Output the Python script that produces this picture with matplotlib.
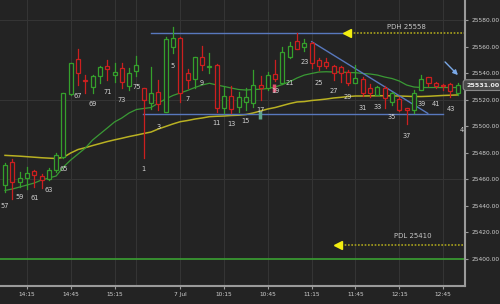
import matplotlib
matplotlib.use('Agg')
import matplotlib.pyplot as plt
from matplotlib.patches import Rectangle
import matplotlib.transforms as mtransforms

# 5 min candles, prev day bars 57..75 then 7 Jul bars 1..44
opens = [25456, 25473, 25458, 25461, 25466.4, 25462.4, 25460.2, 25466.6, 25477, 25524.3,
         25550.5, 25534.6, 25529.4, 25537.9, 25545.4, 25539, 25543.7, 25530.3, 25541.9,
         25528.8, 25517.3, 25525.8, 25510.9, 25560, 25566.3, 25539.9, 25535.4, 25552.5,
         25544.7, 25546.2, 25513.5, 25522.8, 25514.7, 25518.6, 25517.7, 25531.1, 25528.6,
         25539.4, 25532.6, 25552.2, 25564.5, 25560, 25562.6, 25550, 25548.5, 25545.1,
         25544.5, 25540.9, 25532.8, 25535.4, 25528.8, 25523.9, 25528.5, 25518.6, 25520.3,
         25513.5, 25512.6, 25527.7, 25536.9, 25532.8, 25531, 25532.2, 25524.7]
highs = [25472, 25475, 25465.4, 25469.2, 25466.9, 25463.9, 25468.1, 25479.8, 25525.1, 25547.7,
         25558, 25538.6, 25538.6, 25545.4, 25549.6, 25547.7, 25547.9, 25543.7, 25553,
         25529.1, 25544.9, 25534.9, 25567.3, 25575.1, 25567, 25542.9, 25552.2, 25560.5,
         25555, 25547, 25529.8, 25530.3, 25526, 25528.6, 25542.4, 25537.9, 25541.1,
         25550, 25560, 25563.5, 25570, 25565.8, 25563.5, 25551.5, 25551.1, 25546.2,
         25545.4, 25542.4, 25546.2, 25537.1, 25531.8, 25530.7, 25530.3, 25526, 25522.4,
         25514.1, 25527.3, 25538.6, 25537.5, 25533.7, 25532, 25532.6, 25532.6]
lows = [25450, 25445, 25454.1, 25452.6, 25454.1, 25453.4, 25459.4, 25465.4, 25476, 25523.5,
        25531.1, 25525.3, 25525.3, 25532.6, 25534.9, 25533.6, 25528.6, 25527.3, 25537.9,
        25476, 25513, 25512.2, 25510.7, 25555, 25518.5, 25528.6, 25529.1, 25542.4,
        25539.9, 25510.9, 25510, 25510.2, 25510.9, 25512.2, 25514.3, 25519.8, 25527.3,
        25534.1, 25531.8, 25551.5, 25557.9, 25556.8, 25544.3, 25542.4, 25543.9, 25534.9,
        25533.6, 25531.1, 25532.6, 25522.8, 25522.3, 25523.5, 25513.7, 25516, 25511.5,
        25501.7, 25509.7, 25527, 25530.3, 25528.5, 25527, 25522.4, 25523.9]
closes = [25471, 25458, 25461, 25464.7, 25463.2, 25459.4, 25467.3, 25478.3, 25524.8, 25547.5,
          25540.4, 25534.1, 25538.1, 25544.9, 25543.2, 25540.9, 25533.6, 25540.4, 25546.2,
          25519.8, 25525.3, 25516.8, 25565.6, 25566.3, 25524.8, 25534.9, 25552, 25546.2,
          25545.1, 25513.5, 25522.8, 25512.8, 25521.8, 25521.7, 25531.1, 25528.8, 25538.6,
          25535.4, 25556, 25560.2, 25558.3, 25562.6, 25547.5, 25545.1, 25545.4, 25540.2,
          25540.2, 25532.6, 25536.2, 25525.4, 25524.7, 25529.9, 25521.1, 25524.7, 25512.6,
          25512.6, 25524.7, 25536, 25532.6, 25530, 25530.5, 25526.2, 25531]

ma_fast = [25451.5, 25452.6, 25454.1, 25455.6, 25457.1, 25459.4, 25460.9, 25462.4, 25469.2, 25474.5,
           25479, 25483.5, 25489.6, 25494.1, 25498.6, 25503.2, 25506.2, 25510, 25512.6,
           25513.4, 25514.1, 25517.5, 25520.5, 25523.2, 25525.1, 25527, 25529.2, 25531.1,
           25532.4, 25531.1, 25530, 25528.8, 25527.7, 25527.3, 25527.7, 25527.9, 25528.5,
           25529.6, 25531.5, 25533.6, 25536.4, 25538.6, 25539.8, 25540.9, 25541.1, 25540.9,
           25540.9, 25540.5, 25540.4, 25539.8, 25539.4, 25538.6, 25537.1, 25536, 25534.1,
           25531.1, 25529.6, 25529.2, 25529.2, 25529.2, 25529.2, 25529.2, 25529.2]
ma_slow = [25478, 25477.7, 25477.4, 25477, 25476.6, 25476.2, 25475.9, 25475.6, 25476.5, 25479.8,
           25482.4, 25483.8, 25485.4, 25486.9, 25488.4, 25489.7, 25490.9, 25492.2, 25493.3,
           25494.5, 25495.6, 25497.9, 25499.8, 25501.7, 25503.4, 25504.3, 25505.4, 25506.2,
           25507.2, 25507.5, 25507.7, 25508.1, 25508.3, 25508.8, 25510, 25511.5, 25513,
           25514.1, 25515.6, 25517.1, 25518.3, 25518.6, 25519.4, 25519.9, 25520.5, 25521.3,
           25521.8, 25522.4, 25522.8, 25522.8, 25522.9, 25523, 25523, 25522.9, 25522.8,
           25522.6, 25522.4, 25522.4, 25522.6, 25522.9, 25523.2, 25523.4, 25523.6]

bar_labels = ['57', '59', '61', '63', '65', '67', '69', '71', '73', '75',
              '1', '3', '5', '7', '9', '11', '13', '15', '17', '19', '21', '23',
              '25', '27', '29', '31', '33', '35', '37', '39', '41', '43']
label_y = [25439.8, 25446.8, 25445.6, 25451.6, 25467.5, 25522.6, 25516.5, 25525.6, 25519.8, 25529.8,
           25467.5, 25499.6, 25545.7, 25520.5, 25532.8, 25502.2, 25501.4, 25503.9, 25512.2,
           25526.6, 25532.8, 25548.2, 25532.4, 25526.8, 25522.3, 25513.7, 25514.2, 25507.2,
           25492.8, 25517.0, 25516.5, 25512.7]

tick_pos = [3, 9, 15, 24, 30, 36, 42, 48, 54, 60]
tick_text = ['14:15', '14:45', '15:15', '7 Jul', '10:15', '10:45', '11:15', '11:45', '12:15', '12:45']

pdh_level, pdl_level = 25570, 25410
support_level = 25400
range_low = 25509
last_price = 25531

bg = '#232323'
up_col = '#35a02c'
dn_col = '#cc1f1f'
blue = '#5878bd'

fig = plt.figure(figsize=(5, 3.04), dpi=100, facecolor=bg)
ax = fig.add_axes([0, 18 / 304, 465 / 500, 286 / 304])
ax.set_facecolor(bg)

ax.set_xlim(-0.685, 63.0)
ax.set_ylim(25379.4, 25595.25)

# grid
for t in tick_pos + [18]:
    ax.axvline(t, color='#343434', lw=0.8, zorder=0)
for p in [25460, 25520, 25580]:
    ax.axhline(p, color='#343434', lw=0.8, zorder=0)

ax.axhline(support_level, color='#3aa032', lw=1.2, zorder=1)

# moving averages
xs = list(range(len(opens)))
ax.plot(xs, ma_slow, color='#b9b122', lw=1.1, zorder=2)
ax.plot(xs, ma_fast, color='#3a9a35', lw=0.9, zorder=2)

# candles (hollow)
w = 0.55
for i in xs:
    o, h, l, c = opens[i], highs[i], lows[i], closes[i]
    col = up_col if c >= o else dn_col
    ax.plot([i, i], [l, h], color=col, lw=0.9, zorder=3)
    lo, hi = min(o, c), max(o, c)
    if hi - lo < 0.6:
        hi = lo + 0.6
    ax.add_patch(Rectangle((i - w / 2, lo), w, hi - lo, facecolor=bg,
                           edgecolor=col, lw=0.9, zorder=4))

# blue range lines
ax.plot([20, 46.8], [pdh_level, pdh_level], color=blue, lw=1.0, zorder=2)
ax.plot([18.9, 60], [range_low, range_low], color=blue, lw=1.0, zorder=2)
ax.plot([42.0, 57.9], [25563.8, 25509.7], color=blue, lw=1.0, zorder=2)

# PDH / PDL markers
for lvl, x0 in [(pdh_level, 46.8), (pdl_level, 45.6)]:
    ax.plot([x0, 63.0], [lvl, lvl], color='#a9a21c', lw=1.2, ls=(0, (1, 1)), zorder=2)
    ax.plot([x0], [lvl], marker='<', color='#f2ee10', markersize=6, zorder=3)
ax.text(55.0, 25574.6, 'PDH 25558', color='#c4c4c4', fontsize=5, ha='center', va='center')
ax.text(55.8, 25417, 'PDL 25410', color='#c4c4c4', fontsize=5, ha='center', va='center')

# signal markers
ax.plot([34.9, 34.9], [25505.5, 25511.5], color='#5fa58a', lw=2.5, solid_capstyle='butt', zorder=5)
ax.plot([36.8, 36.8], [25526.0, 25531.5], color='#e0506e', lw=2.5, solid_capstyle='butt', zorder=5)

# light blue arrow to last bar
ax.annotate('', xy=(62.3, 25537.1), xytext=(60.0, 25550.0),
            arrowprops=dict(arrowstyle='-|>', color='#7aa8e6', lw=1.0, mutation_scale=7))

# bar numbers
lab_x = [0, 2, 4, 6, 8, 10, 12, 14, 16, 18] + [19 + k for k in range(0, 43, 2)]
for tx, ty, s in zip(lab_x, label_y, bar_labels):
    ax.text(tx, ty, s, color='#d2d2d2', fontsize=4.8, ha='center', va='center', zorder=6)
ax.text(62.5, 25497.1, '4', color='#d2d2d2', fontsize=4.8, ha='center', va='center', zorder=6)

# axes styling
for s in ['left', 'top']:
    ax.spines[s].set_visible(False)
for s in ['right', 'bottom']:
    ax.spines[s].set_color('#9a9a9a')
    ax.spines[s].set_linewidth(1.5)
ax.yaxis.tick_right()
ax.set_yticks(range(25400, 25581, 20))
ax.set_yticklabels(['%.2f' % v for v in range(25400, 25581, 20)])
ax.set_xticks(tick_pos)
ax.set_xticklabels(tick_text)
ax.tick_params(colors='#9a9a9a', labelcolor='#cfcfcf', labelsize=4.2, length=2.5, width=0.8, pad=2)

# last price tag
tr = mtransforms.blended_transform_factory(ax.transAxes, ax.transData)
ax.text(1.038, last_price, '%.2f' % last_price, transform=tr, color='#f0f0f0', fontsize=4.6,
        fontweight='bold', ha='center', va='center', clip_on=False, zorder=7,
        bbox=dict(boxstyle='round,pad=0.45', facecolor='#4a4a4a', edgecolor='#8a8a8a', lw=0.8))

fig.savefig('out.png', dpi=100, facecolor=bg)
